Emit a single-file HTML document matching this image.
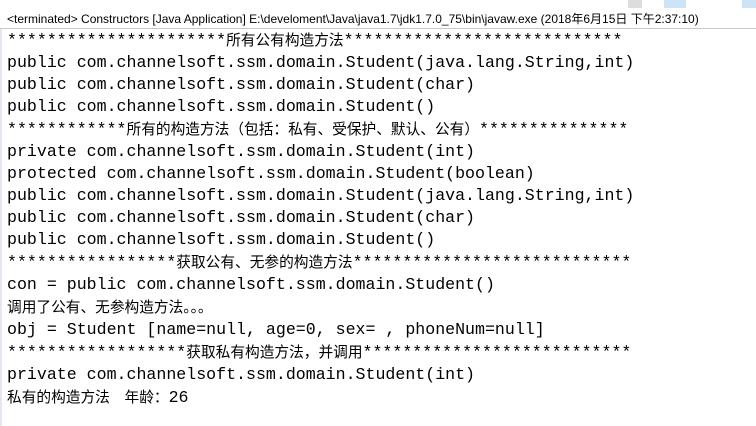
<!DOCTYPE html>
<html><head><meta charset="utf-8"><style>
html,body{margin:0;padding:0;background:#fff;width:756px;height:426px;overflow:hidden;position:relative}
.hdr{position:absolute;left:7px;top:10px;font:12px "Liberation Sans","Noto Sans CJK SC",sans-serif;color:#000;white-space:pre}
.c{position:absolute;left:7px;top:29px;font:16.6px/22px "Liberation Mono","Noto Sans CJK SC",monospace;color:#000;white-space:pre}
.c .z{font-family:"Noto Sans CJK SC",sans-serif;font-size:14.7px}
.strip{position:absolute;left:0;top:28px;width:2px;height:398px;background:#e4e6f4}
.tb{position:absolute;top:0;height:8px}
</style></head><body>
<div class="strip"></div>
<div style="position:absolute;left:0;top:28px;width:756px;height:1px;background:#c8c8c8"></div>
<div class="tb" style="left:628px;width:14px;background:#ddd"></div>
<div class="tb" style="left:664px;width:22px;background:#cde4f7"></div>
<div class="tb" style="left:742px;width:14px;background:#cde4f7"></div>
<div class="hdr">&lt;terminated&gt; Constructors [Java Application] E:\develoment\Java\java1.7\jdk1.7.0_75\bin\javaw.exe (2018年6月15日 下午2:37:10)</div>
<div class="c">**********************<span class="z">所有公有构造方法</span>****************************
public com.channelsoft.ssm.domain.Student(java.lang.String,int)
public com.channelsoft.ssm.domain.Student(char)
public com.channelsoft.ssm.domain.Student()
************<span class="z">所有的构造方法（包括：私有、受保护、默认、公有）</span>***************
private com.channelsoft.ssm.domain.Student(int)
protected com.channelsoft.ssm.domain.Student(boolean)
public com.channelsoft.ssm.domain.Student(java.lang.String,int)
public com.channelsoft.ssm.domain.Student(char)
public com.channelsoft.ssm.domain.Student()
*****************<span class="z">获取公有、无参的构造方法</span>****************************
con = public com.channelsoft.ssm.domain.Student()
<span class="z">调用了公有、无参构造方法。。。</span>
obj = Student [name=null, age=0, sex= , phoneNum=null]
******************<span class="z">获取私有构造方法，并调用</span>***************************
private com.channelsoft.ssm.domain.Student(int)
<span class="z">私有的构造方法　年龄：</span>26</div>
</body></html>
